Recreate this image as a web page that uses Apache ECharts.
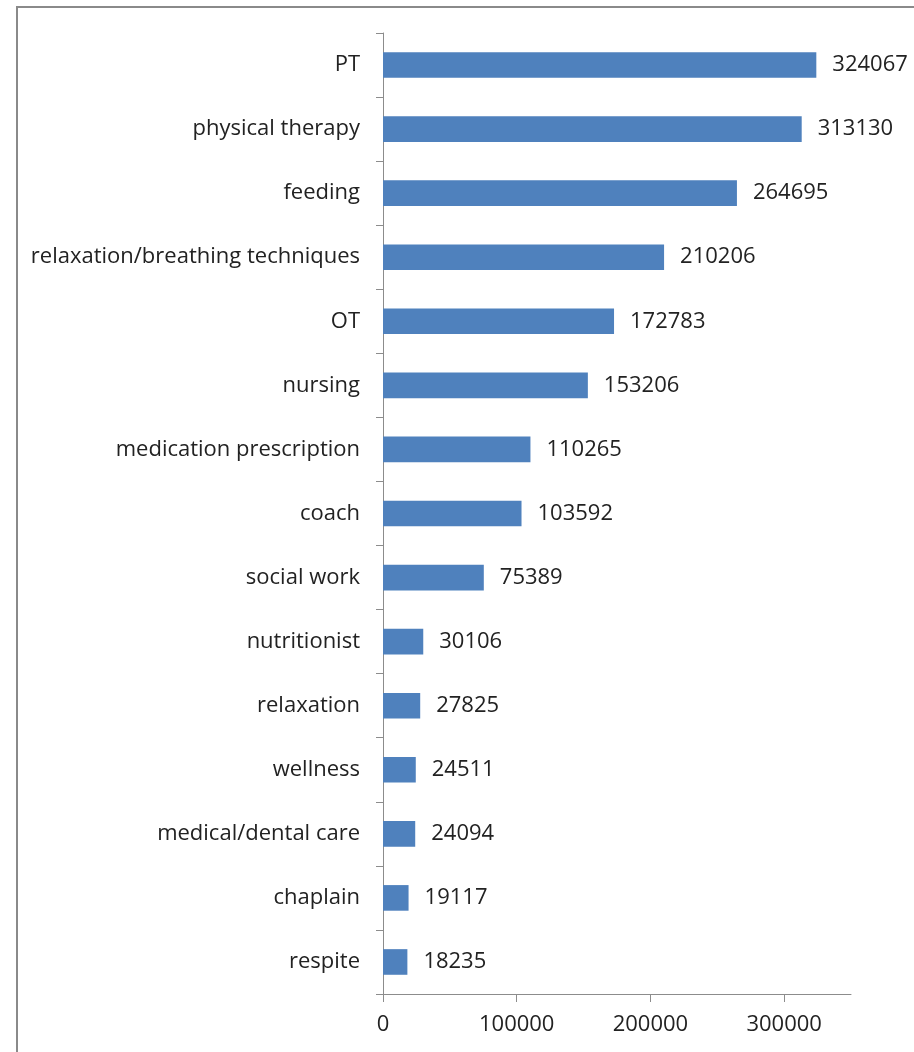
<!DOCTYPE html>
<html>
<head>
<meta charset="utf-8">
<script src="https://cdn.jsdelivr.net/npm/echarts@6/dist/echarts.min.js"></script>
<style>
    html, body { margin: 0; padding: 0; background: #fff; }
    #main { width: 914px; height: 1052px; }
</style>
</head>
<body>
<div id="main"></div>
<script>
// 类别与数值（从上到下）
var categories = ['PT', 'physical therapy', 'feeding', 'relaxation/breathing techniques', 'OT',
    'nursing', 'medication prescription', 'coach', 'social work', 'nutritionist',
    'relaxation', 'wellness', 'medical/dental care', 'chaplain', 'respite'];
var values = [324067, 313130, 264695, 210206, 172783, 153206, 110265, 103592,
    75389, 30106, 27825, 24511, 24094, 19117, 18235];
var xTicks = [0, 100000, 200000, 300000];

var font = 'Open Sans';
var myChart = echarts.init(document.getElementById('main'));
var option = {
    backgroundColor: '#fff',
    animation: false,
    graphic: [{
        type: 'rect',
        shape: {x: 17, y: 7, width: 1000, height: 1100},
        style: {fill: 'none', stroke: '#8a8a8a', lineWidth: 2},
        silent: true
    }],
    grid: {
        left: 383,
        top: 33,
        right: 63,
        bottom: 58
    },
    xAxis: {
        type: 'value',
        min: 0,
        max: 350000,
        interval: 100000,
        splitLine: {show: false},
        axisLine: {show: true, lineStyle: {color: '#8c8c8c', width: 1}},
        axisTick: {show: true, length: 8, customValues: xTicks, lineStyle: {color: '#8c8c8c'}},
        axisLabel: {
            customValues: xTicks,
            margin: 20,
            color: '#222',
            fontFamily: font,
            fontSize: 22,
            formatter: function (v) { return String(v); }
        }
    },
    yAxis: {
        type: 'category',
        data: categories,
        inverse: true,
        axisLine: {show: true, lineStyle: {color: '#8c8c8c', width: 1}},
        axisTick: {show: true, length: 7, lineStyle: {color: '#8c8c8c'}},
        axisLabel: {
            margin: 23,
            color: '#222',
            fontFamily: font,
            fontSize: 22
        }
    },
    series: [{
        type: 'bar',
        data: values,
        barWidth: '40%',
        itemStyle: {color: '#4f81bd'},
        label: {
            show: true,
            position: 'right',
            distance: 16,
            color: '#222',
            fontFamily: font,
            fontSize: 22
        }
    }]
};
myChart.setOption(option);
</script>
</body>
</html>
